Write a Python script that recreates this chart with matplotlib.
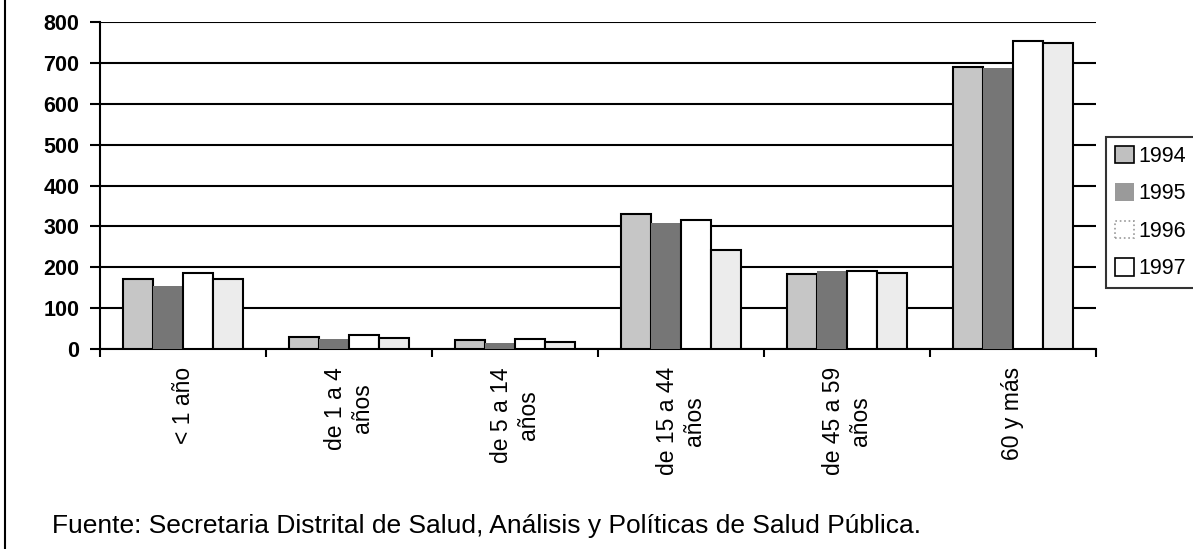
import os
import numpy as np
import matplotlib.pyplot as plt
import matplotlib.font_manager as fm
from matplotlib.patches import Patch
from matplotlib.lines import Line2D

# Datos
grupos = ['< 1 año', 'de 1 a 4\naños', 'de 5 a 14\naños', 'de 15 a 44\naños',
          'de 45 a 59\naños', '60 y más']
anios = ['1994', '1995', '1996', '1997']
v1994 = [171, 30, 22, 331, 184, 690]
v1995 = [153, 25, 14, 308, 190, 687]
v1996 = [186, 34, 25, 316, 192, 753]
v1997 = [171, 28, 16, 242, 186, 748]
fuente = 'Fuente: Secretaria Distrital de Salud, Análisis y Políticas de Salud Pública.'


def fuente_arial(archivo, size, weight='normal'):
    # buscar el archivo de Liberation Sans (no la Narrow)
    for f in fm.findSystemFonts():
        if os.path.basename(f).startswith(archivo):
            return fm.FontProperties(fname=f, size=size)
    return fm.FontProperties(family='DejaVu Sans', size=size, weight=weight)


f_ytick = fuente_arial('LiberationSans-Bold.', 15.5, 'bold')
f_xtick = fuente_arial('LiberationSans-Regular.', 16.5)
f_leg = fuente_arial('LiberationSans-Regular.', 15.5)
f_src = fuente_arial('LiberationSans-Regular.', 19)

series = [v1994, v1995, v1996, v1997]
colores = ['#c6c6c6', '#767676', '#ffffff', '#ececec']
bordes = ['black', 'none', 'black', 'black']

fig = plt.figure(figsize=(11.93, 5.49), dpi=100)
ax = fig.add_axes([100 / 1193, 1 - 349 / 549, 996 / 1193, 327 / 549])

x = np.arange(len(grupos))
w = 1 / 5.5
for i, vals in enumerate(series):
    ax.bar(x + (i - 1.5) * w, vals, width=w, color=colores[i],
           edgecolor=bordes[i], linewidth=1.5, zorder=3)

ax.set_xlim(-0.5, len(grupos) - 0.5)
ax.set_ylim(0, 800)
ax.set_yticks(np.arange(0, 801, 100))
ax.yaxis.grid(True, color='black', linewidth=1.5, zorder=0)
ax.set_axisbelow(True)

ax.set_xticks(x)
ax.set_xticklabels(grupos, rotation=90, ha='center', va='top',
                   multialignment='center', linespacing=1.2,
                   fontproperties=f_xtick)
ax.set_xticks(np.arange(-0.5, len(grupos)), minor=True)
ax.tick_params(axis='x', which='major', length=0, pad=13)
ax.tick_params(axis='x', which='minor', length=6, width=1.5, direction='out')
ax.tick_params(axis='y', length=7, width=1.5, direction='out', pad=8)
for t in ax.get_yticklabels():
    t.set_fontproperties(f_ytick)

for s in ['top', 'right']:
    ax.spines[s].set_visible(False)
for s in ['left', 'bottom']:
    ax.spines[s].set_linewidth(1.5)

# Leyenda
handles = [Patch(facecolor='#c0c0c0', edgecolor='black', linewidth=1.2),
           Patch(facecolor='#9a9a9a', edgecolor='none'),
           Patch(facecolor='white', edgecolor='#999999', linewidth=1.2, linestyle=':'),
           Patch(facecolor='white', edgecolor='black', linewidth=1.2)]
leg = fig.legend(handles, anios, loc='upper left',
                 bbox_to_anchor=(1106 / 1193, 1 - 137 / 549), prop=f_leg,
                 frameon=True, fancybox=False, handlelength=0.9, handleheight=0.9,
                 handletextpad=0.2, labelspacing=0.75, borderpad=0.4,
                 borderaxespad=0)
leg.get_frame().set_edgecolor('black')
leg.get_frame().set_linewidth(1.5)

# Fuente y borde izquierdo
fig.text(52 / 1193, 1 - 533 / 549, fuente, fontproperties=f_src, ha='left', va='baseline')
fig.add_artist(Line2D([5 / 1193, 5 / 1193], [0, 1], color='black', linewidth=1.5))

fig.savefig('out.png', dpi=100)
